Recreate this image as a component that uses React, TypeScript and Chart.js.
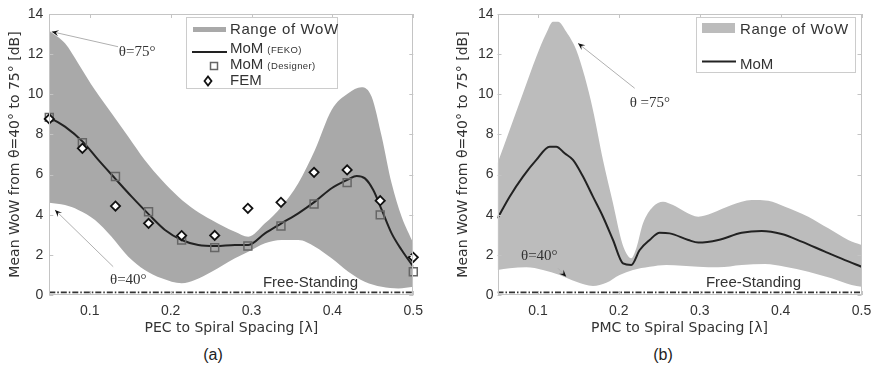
import React, { useEffect, useRef } from "react";
import { Chart, registerables } from "chart.js";

Chart.register(...registerables);

const SANS = "'Liberation Sans', Arial, sans-serif";
const WIDE = "'DejaVu Sans', 'Liberation Sans', sans-serif";
const SERIF = "'Liberation Serif', 'Times New Roman', serif";
const TEXT = "#333333";
const CANVAS_H = 340;

// ---------- shared axis values ----------
const xTickValues = [0.1, 0.2, 0.3, 0.4, 0.5];
const yMin = 0;
const yMax = 14;
const yStep = 2;
const xMin = 0.05;
const xMax = 0.5;
const freeStandingLevel = 0.13;
const yTitle = "Mean WoW from θ=40° to 75° [dB]";

// ---------- panel (a): PEC ----------
const upperA_x = [0.05, 0.0694, 0.0858, 0.1065, 0.127, 0.1477, 0.168, 0.189, 0.2095, 0.23, 0.2507, 0.2795, 0.296, 0.3166, 0.337, 0.3578, 0.3784, 0.399, 0.4196, 0.436, 0.4485, 0.461, 0.4732, 0.4856, 0.5];
const upperA_y = [13.17, 12.54, 11.54, 10.21, 9.05, 7.89, 6.73, 5.73, 4.9, 4.24, 3.74, 3.15, 2.9, 3.57, 4.4, 5.57, 7.22, 9.22, 10.05, 10.35, 9.88, 7.89, 5.57, 3.9, 2.58];
const lowerA_x = [0.05, 0.0694, 0.0858, 0.1065, 0.127, 0.1477, 0.168, 0.189, 0.2137, 0.23, 0.2507, 0.2795, 0.296, 0.3166, 0.337, 0.3578, 0.3784, 0.399, 0.4196, 0.44, 0.461, 0.4815, 0.5];
const lowerA_y = [4.6, 4.48, 4.24, 3.74, 2.9, 1.91, 1.25, 0.83, 0.58, 0.75, 1.16, 1.83, 2.16, 2.58, 2.74, 2.74, 2.41, 1.83, 1.16, 0.66, 0.41, 0.33, 0.41];
const fekoA_x = [0.05, 0.0694, 0.0913, 0.1106, 0.1312, 0.1518, 0.1736, 0.193, 0.2137, 0.2342, 0.256, 0.2795, 0.296, 0.3166, 0.337, 0.3578, 0.3784, 0.399, 0.4196, 0.43, 0.4402, 0.4505, 0.461, 0.4732, 0.4856, 0.5];
const fekoA_y = [8.85, 8.39, 7.64, 6.73, 5.81, 4.9, 3.99, 3.24, 2.74, 2.49, 2.44, 2.49, 2.49, 3.07, 3.57, 4.07, 4.65, 5.32, 5.76, 5.93, 5.81, 5.23, 4.24, 3.07, 2.24, 1.41];
const spacingA = [0.05, 0.0909, 0.1318, 0.1727, 0.2136, 0.2545, 0.2955, 0.3364, 0.3773, 0.4182, 0.4591, 0.5];
const designerA = [8.85, 7.59, 5.9, 4.15, 2.74, 2.36, 2.44, 3.44, 4.53, 5.6, 3.99, 1.16];
const femA = [8.77, 7.31, 4.43, 3.57, 2.96, 2.97, 4.32, 4.62, 6.11, 6.23, 4.7, 1.88];

// ---------- panel (b): PMC ----------
const upperB_x = [0.05, 0.065, 0.0815, 0.098, 0.1103, 0.1186, 0.1248, 0.135, 0.1474, 0.1578, 0.168, 0.1804, 0.1928, 0.203, 0.2092, 0.2154, 0.2216, 0.2299, 0.2422, 0.2546, 0.267, 0.2818, 0.2982, 0.3148, 0.3395, 0.3642, 0.3847, 0.4054, 0.4342, 0.459, 0.4836, 0.5];
const upperB_y = [6.56, 8.22, 10.05, 11.87, 13.04, 13.62, 13.62, 13.12, 12.21, 10.88, 9.22, 6.73, 4.57, 2.74, 2.08, 1.83, 2.33, 3.57, 4.4, 4.65, 4.48, 4.15, 3.9, 4.07, 4.48, 4.73, 4.7, 4.4, 3.9, 3.32, 2.74, 2.49];
const lowerB_x = [0.05, 0.065, 0.0856, 0.1062, 0.1269, 0.1474, 0.168, 0.1845, 0.201, 0.2175, 0.2381, 0.2587, 0.2982, 0.323, 0.3519, 0.3807, 0.4054, 0.4342, 0.4631, 0.4878, 0.5];
const lowerB_y = [1.25, 1.33, 1.38, 1.25, 1.0, 0.66, 0.45, 0.61, 1.0, 1.25, 1.41, 1.5, 1.41, 1.38, 1.5, 1.55, 1.41, 1.16, 0.83, 0.5, 0.41];
const momB_x = [0.05, 0.065, 0.0815, 0.098, 0.1145, 0.1227, 0.133, 0.1433, 0.1557, 0.168, 0.1804, 0.1928, 0.2051, 0.2154, 0.2258, 0.2381, 0.2505, 0.2629, 0.2859, 0.2982, 0.323, 0.3519, 0.3766, 0.4013, 0.426, 0.4548, 0.4795, 0.5];
const momB_y = [3.82, 4.9, 5.9, 6.73, 7.39, 7.39, 7.06, 6.73, 5.9, 4.9, 3.9, 2.74, 1.58, 1.5, 2.24, 2.74, 3.1, 3.07, 2.74, 2.61, 2.74, 3.1, 3.19, 3.04, 2.66, 2.16, 1.74, 1.41];

type Annot = { text: string; tx: number; ty: number; from: [number, number]; tip: [number, number] };

type PanelSpec = {
  left: number;
  width: number;
  axisWidth: number;
  padRight: number;
  yTitlePad: number;
  yTickPad: number;
  xTitle: string;
  band: string;
  upperX: number[]; upperY: number[];
  lowerX: number[]; lowerY: number[];
  lineX: number[]; lineY: number[];
  squares?: { x: number[]; y: number[] };
  diamonds?: { x: number[]; y: number[] };
  annots: Annot[];
  freeX: number;
  legend: "a" | "b";
  legendBox: [number, number, number, number];
};

const pts = (xs: number[], ys: number[]) => xs.map((x, i) => ({ x, y: ys[i] }));

function arrow(ctx: CanvasRenderingContext2D, fx: number, fy: number, tx: number, ty: number) {
  ctx.save();
  ctx.strokeStyle = "#b0b0b0";
  ctx.lineWidth = 1;
  ctx.beginPath();
  ctx.moveTo(fx, fy);
  ctx.lineTo(tx, ty);
  ctx.stroke();
  const ang = Math.atan2(ty - fy, tx - fx);
  const L = 7, W = 3;
  ctx.fillStyle = "#111";
  ctx.beginPath();
  ctx.moveTo(tx, ty);
  ctx.lineTo(tx - L * Math.cos(ang) + W * Math.sin(ang), ty - L * Math.sin(ang) - W * Math.cos(ang));
  ctx.lineTo(tx - 0.6 * L * Math.cos(ang), ty - 0.6 * L * Math.sin(ang));
  ctx.lineTo(tx - L * Math.cos(ang) - W * Math.sin(ang), ty - L * Math.sin(ang) + W * Math.cos(ang));
  ctx.closePath();
  ctx.fill();
  ctx.restore();
}

function setSpacing(ctx: CanvasRenderingContext2D, v: string) {
  (ctx as any).letterSpacing = v;
}

function decorPlugin(spec: PanelSpec) {
  return {
    id: "decor",
    afterDraw(chart: any) {
      const ctx: CanvasRenderingContext2D = chart.ctx;
      const a = chart.chartArea;
      const xs = chart.scales.x;
      const ys = chart.scales.y;
      ctx.save();
      // frame
      ctx.strokeStyle = "#c4c4c4";
      ctx.lineWidth = 1;
      ctx.strokeRect(Math.round(a.left) + 0.5, Math.round(a.top) + 0.5, Math.round(a.right - a.left) - 1, Math.round(a.bottom - a.top) - 1);
      // inner ticks
      ctx.beginPath();
      for (let v = yMin; v <= yMax; v += yStep) {
        const py = Math.round(ys.getPixelForValue(v)) + 0.5;
        ctx.moveTo(a.left, py); ctx.lineTo(a.left + 4, py);
        ctx.moveTo(a.right, py); ctx.lineTo(a.right - 4, py);
      }
      xTickValues.forEach((v) => {
        const px = Math.round(xs.getPixelForValue(v)) + 0.5;
        ctx.moveTo(px, a.bottom); ctx.lineTo(px, a.bottom - 4);
        ctx.moveTo(px, a.top); ctx.lineTo(px, a.top + 4);
      });
      ctx.stroke();

      // annotations
      spec.annots.forEach((an) => {
        arrow(ctx, xs.getPixelForValue(an.from[0]), ys.getPixelForValue(an.from[1]), xs.getPixelForValue(an.tip[0]), ys.getPixelForValue(an.tip[1]));
        ctx.fillStyle = TEXT;
        ctx.font = `15px ${SERIF}`;
        ctx.textBaseline = "middle";
        ctx.textAlign = "left";
        ctx.fillText(an.text, xs.getPixelForValue(an.tx), ys.getPixelForValue(an.ty));
      });

      // Free-Standing label
      ctx.fillStyle = TEXT;
      ctx.font = `15px ${SANS}`;
      ctx.textBaseline = "middle";
      ctx.textAlign = "left";
      ctx.fillText("Free-Standing", xs.getPixelForValue(spec.freeX), ys.getPixelForValue(0.6));

      // legend
      const [bx, by, bw, bh] = spec.legendBox;
      ctx.fillStyle = "#ffffff";
      ctx.fillRect(bx, by, bw, bh);
      ctx.strokeStyle = "#cccccc";
      ctx.lineWidth = 1;
      ctx.strokeRect(bx + 0.5, by + 0.5, bw, bh);
      ctx.fillStyle = TEXT;
      ctx.textBaseline = "middle";
      const sx = bx + 6;
      const tx = bx + 44;
      if (spec.legend === "a") {
        ctx.fillStyle = spec.band;
        ctx.fillRect(sx + 1, by + 10, 33, 5);
        ctx.fillStyle = TEXT;
        ctx.font = `15px ${SANS}`;
        setSpacing(ctx, "0.6px");
        ctx.fillText("Range of WoW", tx, by + 13);
        setSpacing(ctx, "0px");
        // line swatch
        ctx.strokeStyle = "#222";
        ctx.lineWidth = 2;
        ctx.beginPath();
        ctx.moveTo(sx, by + 35); ctx.lineTo(sx + 35, by + 35);
        ctx.stroke();
        const rows: [string, string, number][] = [["MoM", "(FEKO)", by + 32], ["MoM", "(Designer)", by + 48], ["FEM", "", by + 64]];
        rows.forEach(([m, s, yy]) => {
          ctx.fillStyle = TEXT;
          ctx.font = `15px ${SANS}`;
          ctx.fillText(m, tx, yy);
          const w = ctx.measureText(m).width;
          if (s) {
            ctx.font = `9.5px ${SANS}`;
            setSpacing(ctx, "0.4px");
            ctx.fillText(s, tx + w + 4, yy + 1.5);
            setSpacing(ctx, "0px");
          }
        });
        // square marker
        ctx.strokeStyle = "#666";
        ctx.lineWidth = 1.5;
        ctx.strokeRect(sx + 18.5, by + 45.5, 7, 7);
        // diamond marker
        ctx.strokeStyle = "#111";
        ctx.lineWidth = 1.8;
        ctx.fillStyle = "#fff";
        ctx.beginPath();
        const dx = sx + 16, dy = by + 64;
        ctx.moveTo(dx - 3.5, dy); ctx.lineTo(dx, dy - 4.5); ctx.lineTo(dx + 3.5, dy); ctx.lineTo(dx, dy + 4.5); ctx.closePath();
        ctx.fill(); ctx.stroke();
      } else {
        ctx.fillStyle = spec.band;
        ctx.fillRect(sx, by + 6, 33, 10);
        ctx.fillStyle = TEXT;
        ctx.font = `15px ${SANS}`;
        setSpacing(ctx, "0.6px");
        ctx.fillText("Range of WoW", tx, by + 13);
        setSpacing(ctx, "0px");
        ctx.strokeStyle = "#222";
        ctx.lineWidth = 2;
        ctx.beginPath();
        ctx.moveTo(sx, by + 44.5); ctx.lineTo(sx + 34, by + 44.5);
        ctx.stroke();
        ctx.fillStyle = TEXT;
        ctx.fillText("MoM", tx, by + 48);
      }
      ctx.restore();
    },
  };
}

function buildConfig(spec: PanelSpec): any {
  const datasets: any[] = [
    {
      data: pts(spec.upperX, spec.upperY),
      fill: "+1",
      backgroundColor: spec.band,
      borderWidth: 0,
      pointRadius: 0,
      cubicInterpolationMode: "monotone",
      order: 10,
    },
    {
      data: pts(spec.lowerX, spec.lowerY),
      fill: false,
      borderWidth: 0,
      borderColor: "rgba(0,0,0,0)",
      pointRadius: 0,
      cubicInterpolationMode: "monotone",
      order: 9,
    },
    {
      data: [{ x: xMin, y: freeStandingLevel }, { x: xMax, y: freeStandingLevel }],
      fill: false,
      borderColor: "#333",
      borderWidth: 1.6,
      borderDash: [6, 2, 1.5, 2],
      pointRadius: 0,
      order: 4,
    },
    {
      data: pts(spec.lineX, spec.lineY),
      fill: false,
      borderColor: "#222",
      borderWidth: 2,
      pointRadius: 0,
      cubicInterpolationMode: "monotone",
      order: 3,
    },
  ];
  if (spec.squares) {
    datasets.push({
      data: pts(spec.squares.x, spec.squares.y),
      showLine: false,
      pointStyle: "rect",
      pointRadius: 5.6,
      pointBorderColor: "#666",
      pointBackgroundColor: "rgba(0,0,0,0)",
      pointBorderWidth: 1.5,
      clip: false,
      order: 2,
    });
  }
  if (spec.diamonds) {
    datasets.push({
      data: pts(spec.diamonds.x, spec.diamonds.y),
      showLine: false,
      pointStyle: "rectRot",
      pointRadius: 4.6,
      pointBorderColor: "#111",
      pointBackgroundColor: "#ffffff",
      pointBorderWidth: 1.8,
      clip: false,
      order: 1,
    });
  }
  return {
    type: "line",
    data: { datasets },
    options: {
      animation: false,
      responsive: false,
      devicePixelRatio: 1,
      events: [],
      layout: { padding: { left: 0, right: spec.padRight, top: 14, bottom: 0 } },
      plugins: {
        legend: { display: false },
        tooltip: { enabled: false },
        filler: { drawTime: "beforeDatasetsDraw" },
      },
      scales: {
        x: {
          type: "linear",
          min: xMin,
          max: xMax,
          grid: { display: false, drawTicks: false },
          border: { display: false },
          afterBuildTicks: (s: any) => {
            s.ticks = xTickValues.map((v) => ({ value: v }));
          },
          afterFit: (s: any) => {
            s.height = CANVAS_H - 295;
            s.paddingLeft = 0;
            s.paddingRight = 0;
          },
          ticks: {
            autoSkip: false,
            maxRotation: 0,
            padding: 8,
            color: TEXT,
            font: { family: SANS, size: 14 },
            callback: (v: any) => String(v),
          },
          title: {
            display: true,
            text: spec.xTitle,
            color: TEXT,
            font: { family: WIDE, size: 14 },
            padding: { top: 0, bottom: 3.6 },
          },
        },
        y: {
          type: "linear",
          min: yMin,
          max: yMax,
          grid: { display: false, drawTicks: false },
          border: { display: false },
          afterFit: (s: any) => {
            s.width = spec.axisWidth;
            s.paddingTop = 0;
            s.paddingBottom = 0;
          },
          ticks: {
            stepSize: yStep,
            padding: spec.yTickPad,
            color: TEXT,
            font: { family: SANS, size: 14 },
          },
          title: {
            display: true,
            text: yTitle,
            color: TEXT,
            font: { family: WIDE, size: 14 },
            padding: { top: spec.yTitlePad, bottom: 0 },
          },
        },
      },
    },
    plugins: [decorPlugin(spec)],
  };
}

const specA: PanelSpec = {
  left: 0,
  width: 435,
  axisWidth: 49.3,
  padRight: 435 - 413.3,
  yTitlePad: 6.6,
  yTickPad: 6,
  xTitle: "PEC to Spiral Spacing [λ]",
  band: "#a9a9a9",
  upperX: upperA_x, upperY: upperA_y,
  lowerX: lowerA_x, lowerY: lowerA_y,
  lineX: fekoA_x, lineY: fekoA_y,
  squares: { x: spacingA, y: designerA },
  diamonds: { x: spacingA, y: femA },
  annots: [
    { text: "θ=75°", tx: 0.136, ty: 12.12, from: [0.135, 12.37], tip: [0.053, 13.12] },
    { text: "θ=40°", tx: 0.125, ty: 0.75, from: [0.129, 1.41], tip: [0.057, 4.24] },
  ],
  freeX: 0.3141,
  legend: "a",
  legendBox: [186, 17, 151, 71],
};

const specB: PanelSpec = {
  left: 435,
  width: 436,
  axisWidth: 62.5,
  padRight: 436 - 426.5,
  yTitlePad: 19.6,
  yTickPad: 4,
  xTitle: "PMC to Spiral Spacing [λ]",
  band: "#bcbcbc",
  upperX: upperB_x, upperY: upperB_y,
  lowerX: lowerB_x, lowerY: lowerB_y,
  lineX: momB_x, lineY: momB_y,
  annots: [
    { text: "θ =75°", tx: 0.2134, ty: 9.55, from: [0.2196, 10.3], tip: [0.1495, 12.54] },
    { text: "θ=40°", tx: 0.079, ty: 1.94, from: [0.1248, 1.33], tip: [0.135, 0.91] },
  ],
  freeX: 0.3077,
  legend: "b",
  legendBox: [261, 17, 159, 55],
};

function Panel({ spec }: { spec: PanelSpec }) {
  const ref = useRef<HTMLCanvasElement>(null);
  useEffect(() => {
    const chart = new Chart(ref.current as HTMLCanvasElement, buildConfig(spec));
    return () => chart.destroy();
  }, [spec]);
  return (
    <canvas
      ref={ref}
      width={spec.width}
      height={CANVAS_H}
      style={{ position: "absolute", left: spec.left, top: 0, width: spec.width, height: CANVAS_H }}
    />
  );
}

export default function App() {
  const cap: React.CSSProperties = {
    position: "absolute",
    top: 345,
    width: 40,
    textAlign: "center",
    fontFamily: SANS,
    fontSize: 16,
    color: "#222",
    lineHeight: "20px",
  };
  return (
    <div style={{ position: "absolute", left: 0, top: 0, width: 871, height: 365, background: "#fff", overflow: "hidden" }}>
      <Panel spec={specA} />
      <Panel spec={specB} />
      <div style={{ ...cap, left: 193 }}>(a)</div>
      <div style={{ ...cap, left: 643 }}>(b)</div>
    </div>
  );
}
